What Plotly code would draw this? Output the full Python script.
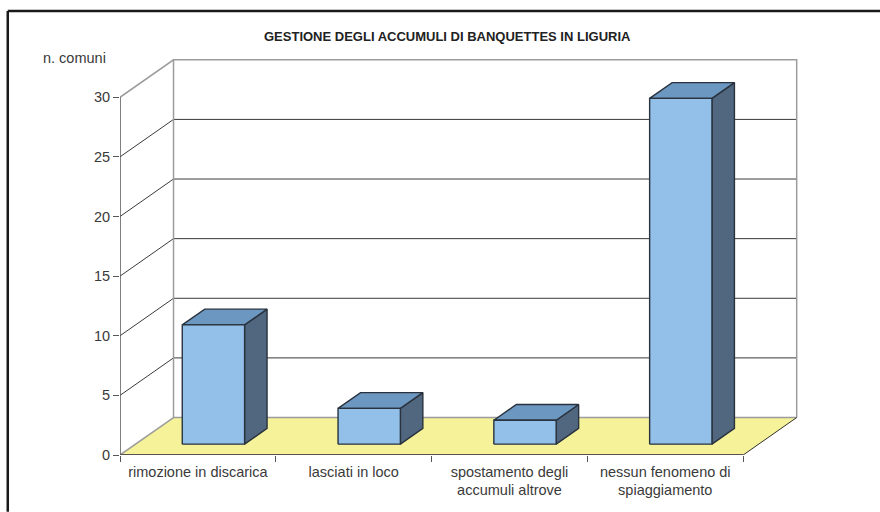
import plotly.graph_objects as go

categories = ["rimozione in discarica", "lasciati in loco",
              "spostamento degli<br>accumuli altrove", "nessun fenomeno di<br>spiaggiamento"]
values = [10, 3, 2, 29]
y_ticks = [0, 5, 10, 15, 20, 25, 30]
title_text = "GESTIONE DEGLI ACCUMULI DI BANQUETTES IN LIGURIA"
y_label = "n. comuni"

W, H = 880, 512
LEFT, RIGHT, TOP, BOTTOM = 120.2, 830, 40, 455.2
CAT_PX = 155.75
UNIT_PX = 11.93
DX = 53.5 / CAT_PX      # depth offset of back wall, in category units
DY = 37.5 / UNIT_PX     # depth offset of back wall, in value units
N = len(categories)
BAR_W = 0.4
D0, D1 = 0.29, 0.71     # bar front and back, as fraction of the depth

FRONT = "#92C0E8"
TOP_C = "#6C97C0"
SIDE = "#50677F"
FLOOR = "#F5F29A"
EDGE = "#29323D"
WALL = "#9C9C9C"
GRID = "#3A3A3A"
AXIS = "#555555"
TXT = "#3A3A3A"


def line(xs, ys, color, width):
    return go.Scatter(x=xs, y=ys, mode="lines", line=dict(color=color, width=width),
                      hoverinfo="skip", showlegend=False, cliponaxis=False)


def poly(xs, ys, fill, edge=EDGE, width=1.4):
    return go.Scatter(x=xs + xs[:1], y=ys + ys[:1], mode="lines", fill="toself", fillcolor=fill,
                      line=dict(color=edge, width=width), hoverinfo="skip",
                      showlegend=False, cliponaxis=False)


fig = go.Figure()

# floor
fig.add_trace(poly([0, N, N + DX, DX], [0, 0, DY, DY], FLOOR, edge=FLOOR, width=0.5))

# gridlines on side and back walls
top = y_ticks[-1]
for v in y_ticks[1:-1]:
    fig.add_trace(line([0, DX, N + DX], [v, v + DY, v + DY], GRID, 1))
fig.add_trace(line([0, DX, N + DX, N + DX], [top, top + DY, top + DY, DY], WALL, 1.5))
fig.add_trace(line([DX, DX, N + DX], [top + DY, DY, DY], WALL, 1.5))
fig.add_trace(line([0, DX], [0, DY], WALL, 1.5))
fig.add_trace(line([N + DX, N], [DY, 0], "#333333", 1))

# axes
fig.add_trace(line([0, 0], [0, top], AXIS, 1.5))
fig.add_trace(line([0, N], [0, 0], "#57524A", 2))

# bars
for i, v in enumerate(values):
    x0 = i + 0.5 - BAR_W / 2
    x1 = x0 + BAR_W
    fx, fy = D0 * DX, D0 * DY
    bx, by = D1 * DX, D1 * DY
    fig.add_trace(poly([x1 + fx, x1 + bx, x1 + bx, x1 + fx],
                       [fy, by, v + by, v + fy], SIDE))
    fig.add_trace(poly([x0 + fx, x1 + fx, x1 + bx, x0 + bx],
                       [v + fy, v + fy, v + by, v + by], TOP_C))
    fig.add_trace(poly([x0 + fx, x1 + fx, x1 + fx, x0 + fx],
                       [fy, fy, v + fy, v + fy], FRONT))

PW = RIGHT - LEFT
PH = BOTTOM - TOP
fig.update_layout(
    width=W, height=H, autosize=False,
    margin=dict(l=LEFT, r=W - RIGHT, t=TOP, b=H - BOTTOM, pad=0),
    paper_bgcolor="white", plot_bgcolor="white",
    font=dict(family="Liberation Sans, Arial, sans-serif", size=13, color=TXT),
    showlegend=False,
    xaxis=dict(range=[0, PW / CAT_PX], showgrid=False, zeroline=False, showline=False,
               tickmode="array", tickvals=[i + 0.5 for i in range(N)], ticktext=categories,
               ticks="", ticklabelstandoff=6, tickangle=0,
               tickfont=dict(size=14.5, color=TXT),
               minor=dict(tickmode="array", tickvals=list(range(N + 1)), ticks="outside",
                          ticklen=6, tickwidth=1, tickcolor=AXIS, showgrid=False)),
    yaxis=dict(range=[0, PH / UNIT_PX], showgrid=False, zeroline=False, showline=False,
               tickmode="array", tickvals=y_ticks, ticktext=[str(t) for t in y_ticks],
               ticks="outside", ticklen=6, tickwidth=1, tickcolor=AXIS,
               tickfont=dict(size=14.5, color=TXT)),
    annotations=[
        dict(text="<b>%s</b>" % title_text, xref="paper", yref="paper", showarrow=False,
             x=(447.5 - LEFT) / PW, y=(BOTTOM - 36) / PH,
             xanchor="center", yanchor="middle", font=dict(size=13, color="#222222")),
        dict(text=y_label, xref="paper", yref="paper", showarrow=False,
             x=(75 - LEFT) / PW, y=(BOTTOM - 58) / PH,
             xanchor="center", yanchor="middle", font=dict(size=14.5, color=TXT)),
    ],
    shapes=[
        dict(type="line", xref="paper", yref="paper", line=dict(color="#1A1A1A", width=2.5),
             x0=(8 - LEFT) / PW, x1=(W - LEFT) / PW,
             y0=(BOTTOM - 11) / PH, y1=(BOTTOM - 11) / PH),
        dict(type="line", xref="paper", yref="paper", line=dict(color="#1A1A1A", width=2.5),
             x0=(8 - LEFT) / PW, x1=(8 - LEFT) / PW,
             y0=(BOTTOM - 11) / PH, y1=(BOTTOM - H) / PH),
    ],
)

fig.write_html("out.html", config=dict(displayModeBar=False),
               post_script="document.body.style.margin='0';")
